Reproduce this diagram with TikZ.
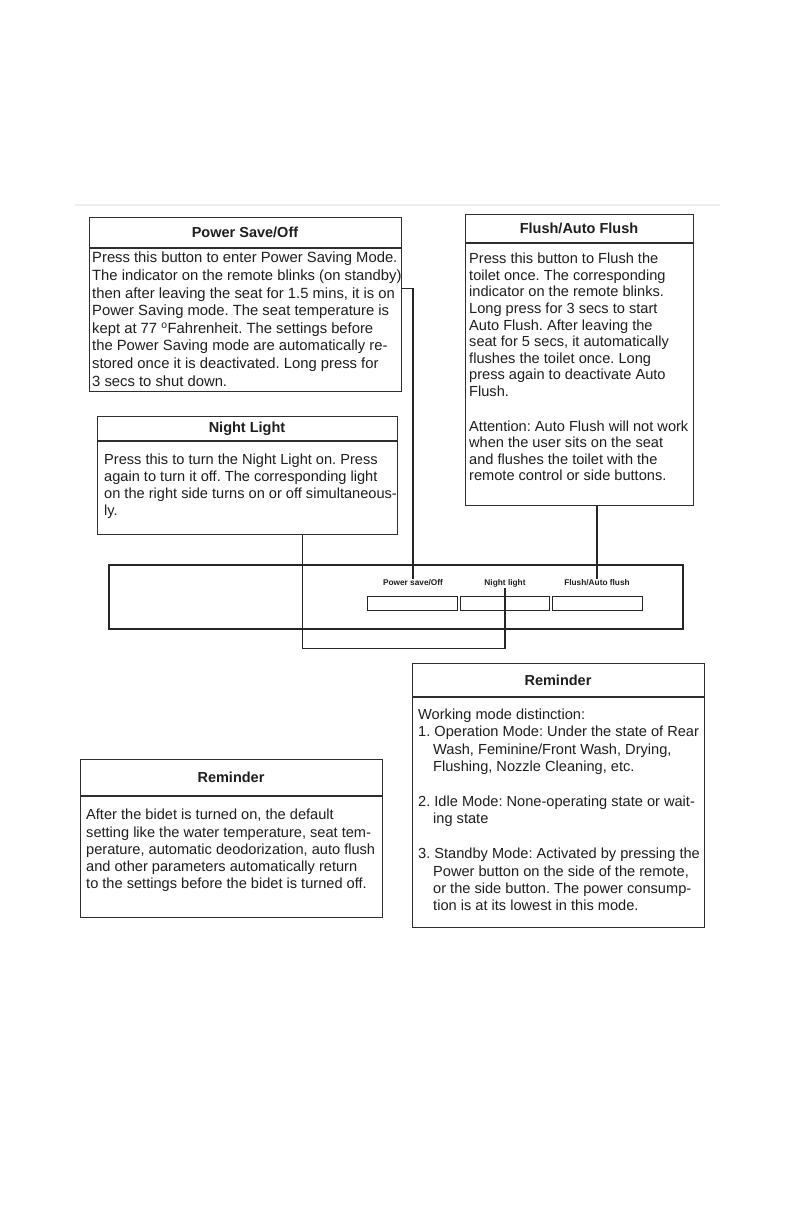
\documentclass[tikz,border=0pt]{standalone}
\usepackage{fontspec}
\setmainfont{Liberation Sans}
\definecolor{ink}{HTML}{1E1E1E}
\definecolor{edge}{HTML}{2E2E2E}
\frenchspacing
\begin{document}
\begin{tikzpicture}[x=1pt,y=-1pt,
 box/.style={draw=edge,line width=1.4pt,rectangle,inner sep=0pt,anchor=north west},
 ttl/.style={font=\fontsize{14.5}{17}\selectfont\bfseries,text=ink,inner sep=0pt},
 body/.style={anchor=north west,inner sep=0pt,align=left,text=ink},
 divider/.style={draw=edge,line width=1.3pt},
 wire/.style={draw=black!85,line width=1.3pt},
 btn/.style={draw=black!85,line width=1.3pt,rectangle,inner sep=0pt,anchor=north west,minimum height=14pt},
 lbl/.style={font=\fontsize{8.3}{9}\selectfont\bfseries,text=ink,inner sep=1pt}]
\fill[white] (0,0) rectangle (793,1225);
\path[use as bounding box] (0,0) rectangle (793,1225);
\draw[black!7,line width=2.5pt] (75,205) -- (720,205);

% Power Save/Off
\node[box,minimum width=312pt,minimum height=174pt] (ps) at (89,217) {};
\draw[divider] (89,248) -- (401,248);
\node[ttl] (pst) at (245,232.5) {Power Save/Off};
\node[body,font=\fontsize{14.8}{17.6}\selectfont] (psb) at (92,252) {Press this button to enter Power Saving Mode.\\
The indicator on the remote blinks (on standby)\\
then after leaving the seat for 1.5 mins, it is on\\
Power Saving mode. The seat temperature is\\
kept at 77 \textsuperscript{o}Fahrenheit. The settings before\\
the Power Saving mode are automatically re-\\
stored once it is deactivated. Long press for\\
3 secs to shut down.};

% Flush/Auto Flush
\node[box,minimum width=228pt,minimum height=291pt] (fl) at (465,214) {};
\draw[divider] (465,243) -- (693,243);
\node[ttl] (flt) at (579,228.5) {Flush/Auto Flush};
\node[body,font=\fontsize{14.6}{16.6}\selectfont] (flb) at (469,253) {Press this button to Flush the\\
toilet once. The corresponding\\
indicator on the remote blinks.\\
Long press for 3 secs to start\\
Auto Flush. After leaving the\\
seat for 5 secs, it automatically\\
flushes the toilet once. Long\\
press again to deactivate Auto\\
Flush.\\[18pt]
Attention: Auto Flush will not work\\
when the user sits on the seat\\
and flushes the toilet with the\\
remote control or side buttons.};

% Night Light
\node[box,minimum width=300pt,minimum height=118pt] (nl) at (97,416) {};
\draw[divider] (97,441) -- (397,441);
\node[ttl] (nlt) at (247,428.5) {Night Light};
\node[body,font=\fontsize{14.6}{17}\selectfont] (nlb) at (104,454) {Press this to turn the Night Light on. Press\\
again to turn it off. The corresponding light\\
on the right side turns on or off simultaneous-\\
ly.};

% Panel
\node[box,draw=black!85,line width=1.6pt,minimum width=574pt,minimum height=64pt] (pan) at (108,564) {};
\node[btn,minimum width=90pt] (b1) at (367,596) {};
\node[btn,minimum width=89pt] (b2) at (460,596) {};
\node[btn,minimum width=90pt] (b3) at (552,596) {};
\node[lbl] (lps) at (413,583) {Power save/Off};
\node[lbl] (lnl) at (505,583) {Night light};
\node[lbl] (lfl) at (597,583) {Flush/Auto flush};

% Connectors
\draw[wire] ([yshift=16pt]ps.east) -| (lps.north);
\draw[wire] (lfl.north |- fl.south) -- (lfl.north);
\draw[wire] ([xshift=55pt]nl.south) -- ++(0,113) -| (lnl.south);

% Reminder (right)
\node[box,minimum width=292pt,minimum height=264pt] (rr) at (412,663) {};
\draw[divider] (412,697) -- (704,697);
\node[ttl] (rrt) at (558,680) {Reminder};
\node[body,font=\fontsize{14.6}{17.2}\selectfont] (rrb) at (418,709) {Working mode distinction:\\
1. Operation Mode: Under the state of Rear\\
\hspace*{15pt}Wash, Feminine/Front Wash, Drying,\\
\hspace*{15pt}Flushing, Nozzle Cleaning, etc.\\[18pt]
2. Idle Mode: None-operating state or wait-\\
\hspace*{15pt}ing state\\[18pt]
3. Standby Mode: Activated by pressing the\\
\hspace*{15pt}Power button on the side of the remote,\\
\hspace*{15pt}or the side button. The power consump-\\
\hspace*{15pt}tion is at its lowest in this mode.};

% Reminder (left)
\node[box,minimum width=302pt,minimum height=158pt] (lr) at (80,759) {};
\draw[divider] (80,796) -- (382,796);
\node[ttl] (lrt) at (231,777.5) {Reminder};
\node[body,font=\fontsize{14.6}{17.3}\selectfont] (lrb) at (86,809) {After the bidet is turned on, the default\\
setting like the water temperature, seat tem-\\
perature, automatic deodorization, auto flush\\
and other parameters automatically return\\
to the settings before the bidet is turned off.};
\end{tikzpicture}
\end{document}
